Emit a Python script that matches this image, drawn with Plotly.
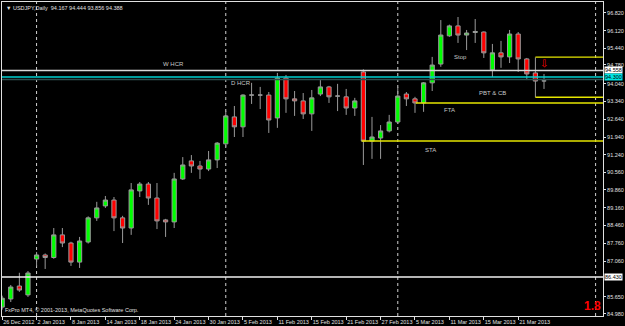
import plotly.graph_objects as go
import pandas as pd

# ---- data ----
dates = [d for d in pd.bdate_range("2012-12-26", "2013-03-26") if d != pd.Timestamp("2013-01-01")]

opens = [85.25, 85.57, 86.08, 85.73, 87.14, 87.30, 87.20, 88.09, 87.77, 87.02,
         87.81, 88.76, 89.23, 89.46, 88.76, 88.36, 89.82, 90.09, 89.54, 88.68,
         88.60, 90.29, 91.00, 90.80, 90.68, 91.04, 91.67, 92.73, 92.34, 93.59,
         93.59, 93.59, 92.69, 94.26, 93.44, 93.36, 92.85, 93.63, 93.91, 93.55,
         93.52, 93.08, 94.50, 91.78, 91.90, 92.18, 92.53, 93.63, 93.44, 93.28,
         94.07, 94.81, 95.92, 96.31, 95.95, 96.05, 96.07, 94.58, 95.25, 95.09,
         95.99, 95.01, 94.46, 94.15]
highs = [85.70, 86.12, 86.60, 86.67, 87.42, 87.36, 88.36, 88.36, 87.82, 88.01,
         88.82, 89.39, 89.62, 89.58, 88.84, 90.13, 90.17, 90.17, 90.13, 88.72,
         90.53, 91.15, 91.23, 91.00, 91.39, 91.74, 92.97, 93.16, 93.62, 94.07,
         93.91, 93.71, 94.46, 94.38, 93.75, 93.67, 93.79, 94.18, 93.95, 94.03,
         93.83, 93.48, 94.60, 92.73, 92.41, 92.81, 93.91, 93.71, 93.52, 94.10,
         95.09, 96.54, 96.36, 96.66, 96.15, 96.58, 96.09, 95.60, 95.72, 96.15,
         96.07, 95.05, 95.07, 94.42]
lows = [85.15, 85.45, 85.85, 85.65, 86.85, 86.75, 87.15, 87.61, 86.87, 86.79,
        87.75, 88.64, 89.15, 88.24, 87.77, 88.09, 89.58, 89.27, 88.32, 88.01,
        88.36, 90.25, 90.53, 90.29, 90.60, 90.72, 91.55, 91.94, 91.94, 93.24,
        93.04, 92.10, 92.30, 92.89, 92.77, 92.65, 92.18, 93.55, 93.28, 92.96,
        92.81, 92.77, 90.84, 91.08, 91.08, 92.12, 92.45, 93.16, 92.89, 92.93,
        93.75, 94.70, 95.88, 95.64, 95.36, 95.64, 95.05, 94.30, 94.66, 94.85,
        94.50, 94.18, 93.50, 93.83]
closes = [85.60, 86.04, 85.92, 86.59, 87.30, 87.20, 88.09, 87.77, 87.02, 87.85,
          88.76, 89.15, 89.46, 88.76, 88.36, 89.86, 90.09, 89.54, 88.64, 88.60,
          90.29, 90.84, 90.80, 90.68, 91.04, 91.70, 92.77, 92.34, 93.59, 93.59,
          93.59, 92.61, 94.26, 93.44, 93.36, 92.85, 93.48, 93.91, 93.52, 93.55,
          93.08, 93.36, 91.78, 91.94, 92.18, 92.53, 93.55, 93.44, 93.28, 94.07,
          94.77, 95.95, 96.31, 95.95, 96.03, 96.09, 95.25, 95.25, 95.09, 95.99,
          95.01, 94.42, 94.14, 94.15]

ytick_values = [96.82, 96.12, 95.44, 94.78, 94.04, 93.34, 92.64, 91.94, 91.24,
                90.56, 89.86, 89.16, 88.46, 87.76, 87.06, 85.65, 84.98]

level_w_hcr = 94.558
level_cyan = 94.300
level_d_hcr = 94.20
level_low_white = 86.430
level_sta = 91.78
level_fta = 93.28
level_stop = 95.08
level_pbt = 93.50

header = "\u25bc USDJPY,Daily  94.167 94.444 93.856 94.388"

# ---- derived ----
idx = list(range(len(dates)))
tick_idx = idx[::4]
tick_txt = [f"{dates[i].day} {dates[i].strftime('%b %Y')}" for i in tick_idx]

# month separators (first bar of month), future one extrapolated by calendar days
sep_idx = [i for i in range(1, len(dates)) if dates[i].month != dates[i - 1].month]
last = len(dates) - 1
sep_idx.append(last + (pd.Timestamp("2013-04-01") - dates[last]).days)

fig = go.Figure()
fig.add_trace(go.Candlestick(
    x=idx, open=opens, high=highs, low=lows, close=closes,
    increasing=dict(fillcolor="#00ff00", line=dict(color="#9a9a9a", width=1)),
    decreasing=dict(fillcolor="#ff0000", line=dict(color="#9a9a9a", width=1)),
    hoverinfo="skip", showlegend=False,
))

shapes = []
for s in sep_idx:
    shapes.append(dict(type="line", xref="x", yref="paper", x0=s, x1=s, y0=0, y1=1,
                       line=dict(color="#d0d0d0", width=1, dash="dot"), layer="below"))

def hline(y, color, width, x0=None, dash="solid"):
    if x0 is None:
        return dict(type="line", xref="paper", yref="y", x0=0, x1=1, y0=y, y1=y,
                    line=dict(color=color, width=width, dash=dash), layer="above")
    return dict(type="line", xref="x", yref="y", x0=x0, x1=70, y0=y, y1=y,
                line=dict(color=color, width=width, dash=dash), layer="above")

shapes += [
    hline(level_w_hcr, "#d9d9d9", 1.5),
    hline(level_cyan, "#00d0d0", 1.5),
    hline(level_d_hcr, "#2f4f4f", 1.5),
    hline(level_low_white, "#f0f0f0", 1.5),
    hline(level_sta, "#e6e600", 1.5, x0=41.8),
    hline(level_fta, "#e6e600", 1.5, x0=48.1),
    hline(level_stop, "#e6e600", 1.2, x0=62),
    hline(level_pbt, "#e6e600", 1.5, x0=62),
]

lab_font = dict(family="Liberation Sans, Arial", size=6, color="#c8c8c8")
ann = [
    dict(x=19.9, y=94.81, text="W HCR"),
    dict(x=27.8, y=94.07, text="D HCR"),
    dict(x=53.3, y=95.09, text="Stop"),
    dict(x=57.0, y=93.67, text="PBT &amp; CB"),
    dict(x=52.0, y=93.00, text="FTA"),
    dict(x=49.8, y=91.43, text="STA"),
]
annotations = [dict(xref="x", yref="y", showarrow=False, font=lab_font, **a) for a in ann]
annotations.append(dict(xref="x", yref="y", x=63, y=94.85, text="\u21e9", showarrow=False,
                        font=dict(family="DejaVu Sans", size=10, color="#ff0000")))

small = dict(family="Liberation Sans, Arial", size=5.5, color="#e0e0e0")
for val, bg in [(level_w_hcr, "#ffffff"), (level_cyan, "#00e5e5"), (level_low_white, "#ffffff")]:
    annotations.append(dict(xref="paper", yref="y", x=1, y=val, xanchor="left", xshift=1,
                            text=f"{val:.3f}", showarrow=False, bgcolor=bg, borderpad=0,
                            font=dict(family="Liberation Sans, Arial", size=5.5, color="#000000")))

annotations.append(dict(xref="paper", yref="paper", x=0, y=1, xanchor="left", yanchor="top",
                        xshift=2, yshift=-1, text=header, showarrow=False, font=small))
annotations.append(dict(xref="paper", yref="paper", x=0, y=0, xanchor="left", yanchor="bottom",
                        xshift=1, yshift=1,
                        text="FxPro MT4, \u00a9 2001-2013, MetaQuotes Software Corp.",
                        showarrow=False, font=small))
annotations.append(dict(xref="paper", yref="paper", x=0.983, y=0.032, xanchor="center",
                        yanchor="middle", text="<b>1.8</b>", showarrow=False,
                        font=dict(family="Liberation Sans, Arial", size=12, color="#ff0000")))

fig.update_layout(
    width=625, height=326,
    margin=dict(l=2, r=22, t=2, b=10, autoexpand=False),
    paper_bgcolor="#000000", plot_bgcolor="#000000",
    shapes=shapes, annotations=annotations,
    showlegend=False,
    xaxis=dict(range=[-0.02, 69.86], rangeslider=dict(visible=False), showgrid=False,
               zeroline=False, showline=True, mirror=True, linecolor="#e0e0e0", linewidth=1,
               tickvals=tick_idx, ticktext=tick_txt, ticks="outside", ticklen=3,
               tickcolor="#e0e0e0", ticklabelposition="outside right", tickangle=0,
               tickfont=small, automargin=False, fixedrange=True),
    yaxis=dict(range=[84.90, 97.25], side="right", showgrid=False, zeroline=False,
               showline=True, mirror=True, linecolor="#e0e0e0", linewidth=1,
               tickvals=ytick_values, ticktext=[f"{v:.3f}" for v in ytick_values],
               ticks="outside", ticklen=2, tickcolor="#e0e0e0",
               tickfont=small, automargin=False, fixedrange=True),
)

fig.write_html("out.html")
